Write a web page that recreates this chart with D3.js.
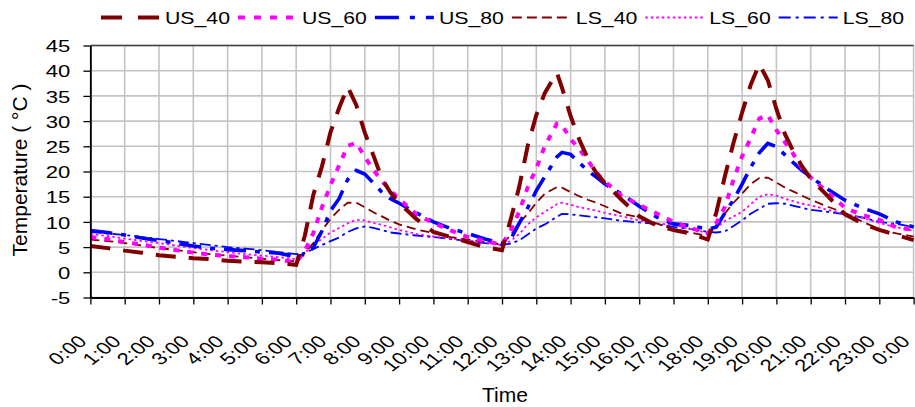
<!DOCTYPE html>
<html><head><meta charset="utf-8">
<script src="https://cdn.jsdelivr.net/npm/d3@7"></script>
<style>
body{margin:0;background:#fff}
svg{display:block}
text{font-family:"Liberation Sans",Arial,Helvetica,sans-serif;fill:#000}
</style>
</head><body>
<svg id="c" width="915" height="407"></svg>
<script>
// ---------- DATA ----------
const hours = [0,0.5,1,1.5,2,2.5,3,3.5,4,4.5,5,5.5,6,
  6.25,6.5,6.75,7,7.25,7.5,7.75,8,8.25,8.5,8.75,9,
  9.5,10,10.5,11,11.5,12,
  12.25,12.5,12.75,13,13.25,13.6,13.75,14,14.25,14.5,14.75,15,
  15.5,16,16.5,17,17.5,18,
  18.25,18.5,18.75,19,19.25,19.5,19.75,20,20.25,20.5,20.75,21,
  21.5,22,22.5,23,23.5,24];

const US_40 = [5.2,4.8,4.3,3.9,3.4,3.1,2.8,2.6,2.3,2.1,2.0,1.8,1.5,
  7.2,15.4,21.0,27.8,32.6,36.8,33.2,27.7,23.2,18.6,15.8,13.8,
  10.6,8.0,7.0,6.0,5.0,4.4,
  10.4,16.9,25.1,31.2,35.6,39.6,36.6,31.0,26.4,22.6,19.7,17.7,
  14.3,11.1,9.3,8.4,7.7,6.5,
  11.9,19.1,25.7,31.7,37.2,41.3,38.1,32.4,27.4,23.9,21.0,18.6,
  15.1,11.5,9.7,8.4,7.4,6.4];

const US_60 = [7.0,6.6,6.0,5.5,4.9,4.4,3.9,3.5,3.2,3.0,2.7,2.5,2.0,
  4.2,7.8,12.9,17.3,21.2,25.1,25.7,22.9,20.3,18.1,16.2,14.6,
  11.5,9.8,8.3,7.0,6.2,5.5,
  8.2,12.0,16.9,20.6,25.1,29.5,29.2,26.4,24.5,22.2,19.8,18.0,
  15.1,13.4,11.7,10.0,8.8,7.7,
  9.8,13.0,18.4,23.0,26.6,30.5,31.2,28.2,25.8,23.4,20.6,18.8,
  15.8,12.8,11.4,10.4,8.9,8.4];

const US_80 = [8.3,7.9,7.4,6.8,6.3,5.8,5.2,4.8,4.5,4.3,4.0,3.8,3.0,
  3.6,4.9,8.2,12.2,14.6,18.4,20.2,19.5,17.7,15.9,14.6,13.7,
  11.8,10.0,8.7,7.7,6.6,5.8,
  6.5,9.7,12.8,16.2,19.0,22.9,23.8,23.4,21.8,20.1,18.9,17.5,
  15.5,13.1,11.0,9.6,9.3,8.5,
  9.0,11.8,14.4,17.5,20.8,23.7,25.6,24.9,23.3,21.7,20.2,18.9,
  16.5,14.3,12.8,11.6,10.0,9.0];

const LS_40 = [6.5,6.2,5.8,5.3,4.8,4.4,4.0,3.6,3.3,3.0,2.7,2.4,2.2,
  3.8,5.8,8.3,10.6,12.4,13.8,13.8,12.9,11.9,11.1,10.2,9.5,
  8.5,7.8,7.0,6.5,6.0,5.5,
  7.4,9.8,11.6,13.8,15.6,16.9,16.8,15.9,15.1,14.4,13.8,13.1,
  11.6,10.9,9.7,8.6,7.9,7.2,
  9.4,11.7,13.8,15.6,17.5,18.7,18.8,17.8,16.8,16.0,15.2,14.4,
  13.0,11.8,10.1,8.5,7.7,7.1];

const LS_60 = [7.6,7.2,6.7,6.2,5.8,5.3,4.8,4.4,4.0,3.6,3.3,3.0,2.6,
  3.8,5.4,6.6,7.9,8.8,9.7,10.4,10.3,9.8,9.4,8.9,8.4,
  7.6,7.1,6.7,6.3,5.9,5.4,
  6.2,7.6,9.5,10.9,12.0,13.5,13.8,13.4,12.9,12.6,12.2,11.8,
  11.1,10.3,9.7,9.4,8.6,7.8,
  8.9,10.2,11.1,12.0,13.5,15.0,15.5,15.2,14.6,14.1,13.6,13.3,
  12.4,11.6,10.8,9.8,8.9,8.3];

const LS_80 = [8.0,7.7,7.4,7.0,6.6,6.2,5.8,5.4,5.0,4.7,4.4,4.0,3.6,
  3.9,4.6,5.4,6.2,6.9,8.0,8.7,9.1,8.8,8.4,7.9,7.7,
  7.3,7.0,6.6,6.2,5.8,5.4,
  5.7,6.3,7.5,8.7,9.5,11.0,11.6,11.5,11.3,11.1,10.9,10.7,
  10.2,9.9,9.6,9.0,8.6,8.0,
  7.9,8.1,9.2,10.3,11.6,12.6,13.6,13.7,13.6,13.2,12.8,12.4,
  12.0,11.5,10.9,10.0,9.6,9.0];

const seriesNames = ["US_40","US_60","US_80","LS_40","LS_60","LS_80"];
const seriesValues = {US_40, US_60, US_80, LS_40, LS_60, LS_80};

const xTickHours = [0,1,2,3,4,5,6,7,8,9,10,11,12,13,14,15,16,17,18,19,20,21,22,23,24];
const xTickLabels = ["0:00","1:00","2:00","3:00","4:00","5:00","6:00","7:00","8:00","9:00","10:00","11:00",
  "12:00","13:00","14:00","15:00","16:00","17:00","18:00","19:00","20:00","21:00","22:00","23:00","0:00"];
const yTicks = [-5,0,5,10,15,20,25,30,35,40,45];
const yTickLabels = ["-5","0","5","10","15","20","25","30","35","40","45"];

const xTitle = "Time";
const yTitle = "Temperature ( \u00B0C )";

// ---------- STYLE ----------
const style = {
  US_40:{color:"#800000", w:4,   dash:"20,13", legDash:"21,16"},
  US_60:{color:"#ff00ff", w:4,   dash:"6,8",   legDash:"7,9"},
  US_80:{color:"#0000ff", w:3.6, dash:"22,9,5,9", legDash:"24,11,5,11"},
  LS_40:{color:"#800000", w:1.8, dash:"9,5",   legDash:"10,5"},
  LS_60:{color:"#ff00ff", w:1.8, dash:"2.5,3", legDash:"2.5,3"},
  LS_80:{color:"#0000ff", w:1.8, dash:"11,4,3,4", legDash:"12,5,3,5"}
};

const svg = d3.select("#c");
const x = d3.scaleLinear().domain([0,24]).range([90.4, 913.6]);
const y = d3.scaleLinear().domain([-5,45]).range([297.5, 45.5]);

// grid
const grid = svg.append("g");
grid.selectAll(".gh").data(yTicks).join("line").attr("class","gh")
  .attr("x1", x(0)).attr("x2", x(24)).attr("y1", d=>y(d)).attr("y2", d=>y(d))
  .attr("stroke","#c4c4c4").attr("stroke-width",1.6);
grid.selectAll(".gv").data(xTickHours).join("line").attr("class","gv")
  .attr("x1", d=>x(d)).attr("x2", d=>x(d)).attr("y1", y(45)).attr("y2", y(-5))
  .attr("stroke","#c4c4c4").attr("stroke-width",1.6);
// top border
svg.append("line").attr("x1",x(0)).attr("x2",x(24)).attr("y1",y(45)).attr("y2",y(45))
  .attr("stroke","#404040").attr("stroke-width",1.5);

// series
const line = d3.line().x((d,i)=>x(hours[i])).y(d=>y(d));
const drawOrder = ["LS_80","LS_60","LS_40","US_80","US_60","US_40"];
svg.append("g").selectAll("path").data(drawOrder).join("path")
  .attr("d", n=>line(seriesValues[n]))
  .attr("fill","none")
  .attr("stroke", n=>style[n].color)
  .attr("stroke-width", n=>style[n].w)
  .attr("stroke-dasharray", n=>style[n].dash);

// axes
const yAxis = svg.append("g").attr("transform",`translate(${x(0)},0)`)
  .call(d3.axisLeft(y).tickValues(yTicks).tickFormat((d,i)=>yTickLabels[i]).tickSize(7).tickSizeOuter(0));
yAxis.select(".domain").attr("stroke","#000").attr("stroke-width",1.8);
yAxis.selectAll(".tick line").attr("stroke","#000").attr("stroke-width",1.3);
yAxis.selectAll(".tick text").attr("x",null).attr("dy","0.36em")
  .attr("transform","translate(-20,0) scale(1.3,1)")
  .style("font-size","17px").attr("font-family",null);

const xAxis = svg.append("g").attr("transform",`translate(0,${y(-5)})`)
  .call(d3.axisBottom(x).tickValues(xTickHours).tickFormat((d,i)=>xTickLabels[i]).tickSize(7).tickSizeOuter(0));
xAxis.select(".domain").attr("stroke","#000").attr("stroke-width",1.8);
xAxis.selectAll(".tick line").attr("stroke","#000").attr("stroke-width",1.3);
xAxis.selectAll(".tick text").attr("y",null).attr("dy",null)
  .attr("text-anchor","end")
  .attr("transform","translate(-3,45) scale(1.3,1) rotate(-45)")
  .style("font-size","17px").attr("font-family",null);

// titles
svg.append("text").attr("x", 505).attr("y", 402).attr("text-anchor","middle")
  .style("font-size","21px").text(xTitle);
svg.append("text").attr("transform","translate(27,170) rotate(-90)").attr("text-anchor","middle")
  .style("font-size","21px").text(yTitle);

// legend
const leg = svg.append("g");
let lx = 101;
seriesNames.forEach(n=>{
  const s = style[n];
  leg.append("line").attr("x1",lx).attr("x2",lx+59).attr("y1",17.5).attr("y2",17.5)
    .attr("stroke",s.color).attr("stroke-width",s.w).attr("stroke-dasharray",s.legDash);
  const t = leg.append("text").attr("transform",`translate(${lx+64},23.7) scale(1.25,1)`)
    .style("font-size","17px").text(n);
  const w = t.node().getComputedTextLength()*1.25;
  lx = lx + 64 + w + 8;
});
</script>
</body></html>
